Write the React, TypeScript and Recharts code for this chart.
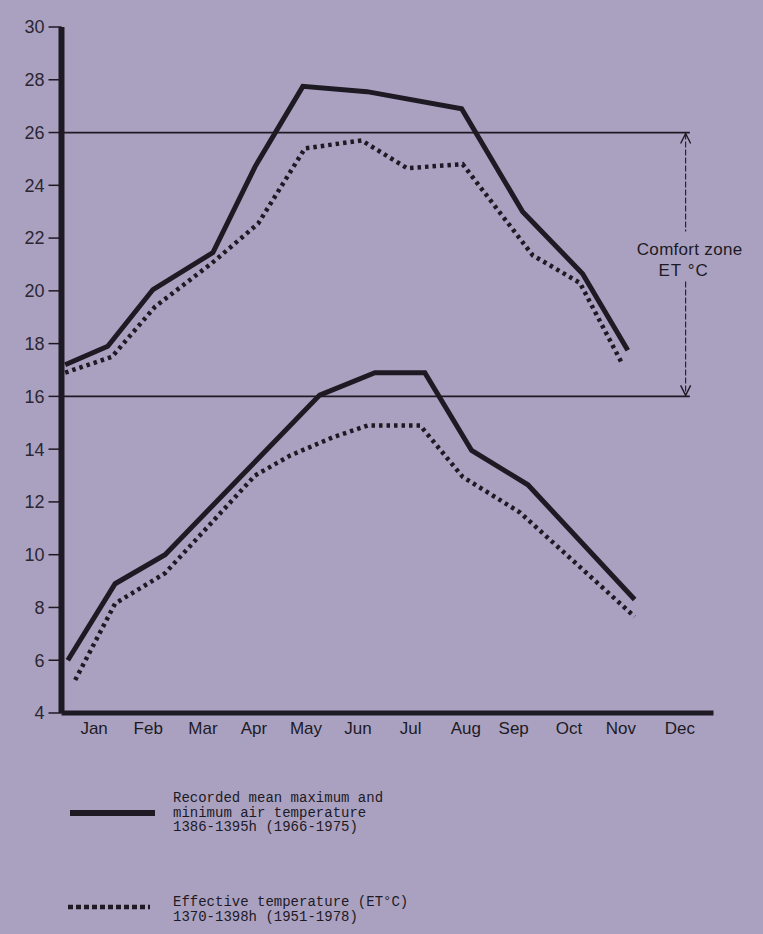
import React from "react";
import {
  LineChart,
  Line,
  XAxis,
  YAxis,
  ReferenceLine,
} from "recharts";

// x is a month position (0 = start of Jan band, 12 = end of Dec band), y is °C
const months = ["Jan", "Feb", "Mar", "Apr", "May", "Jun", "Jul", "Aug", "Sep", "Oct", "Nov", "Dec"];
const monthTicks = [0.42, 1.45, 2.49, 3.46, 4.45, 5.44, 6.44, 7.49, 8.4, 9.45, 10.44, 11.56];
const tempTicks = [4, 6, 8, 10, 12, 14, 16, 18, 20, 22, 24, 26, 28, 30];

const maxRecorded = [
  [-0.13, 17.2], [0.68, 17.9], [1.54, 20.05], [2.68, 21.45], [3.48, 24.7], [4.39, 27.75],
  [5.61, 27.55], [7.41, 26.9], [8.57, 23.0], [9.71, 20.65], [10.57, 17.75],
];
const maxEffective = [
  [-0.13, 16.9], [0.76, 17.5], [1.58, 19.4], [2.66, 21.05], [3.54, 22.55], [4.43, 25.4],
  [5.51, 25.7], [6.37, 24.65], [7.43, 24.8], [8.76, 21.35], [9.66, 20.3], [10.46, 17.25],
];
const minRecorded = [
  [-0.08, 6.0], [0.82, 8.9], [1.77, 10.0], [4.71, 16.05], [5.76, 16.9], [6.71, 16.9],
  [7.6, 13.95], [8.67, 12.65], [10.7, 8.3],
];
const minEffective = [
  [0.06, 5.25], [0.82, 8.15], [1.77, 9.3], [3.48, 13.0], [4.14, 13.75], [4.96, 14.45],
  [5.63, 14.9], [6.62, 14.9], [7.43, 12.95], [8.52, 11.6], [10.7, 7.65],
];

const comfortLow = 16;
const comfortHigh = 26;
const comfortEndX = 11.75;
const comfortArrowX = 11.67;

const legendRecorded = [
  "Recorded mean maximum and",
  "minimum air temperature",
  "1386-1395h (1966-1975)",
];
const legendEffective = ["Effective temperature (ET°C)", "1370-1398h (1951-1978)"];

const INK = "#1d1a24";
const PAPER = "#aaa1c1";
const SANS = "'Liberation Sans', Arial, sans-serif";
const MONO = "'Liberation Mono', 'DejaVu Sans Mono', monospace";

const toRows = (pts: number[][]) => pts.map(([m, t]) => ({ m, t }));

function ComfortArrow(props: any) {
  const { x1, y1, y2 } = props;
  const top = Math.min(y1, y2);
  const bot = Math.max(y1, y2);
  const mid = (top + bot) / 2;
  const x = x1;
  return (
    <g>
      <line x1={x} y1={top + 1} x2={x} y2={mid - 33} stroke={INK} strokeWidth={1.1} strokeDasharray="6 2" />
      <line x1={x} y1={mid + 17} x2={x} y2={bot - 1} stroke={INK} strokeWidth={1.1} strokeDasharray="6 2" />
      <polyline points={`${x - 5},${top + 11} ${x},${top + 1} ${x + 5},${top + 11}`} fill="none" stroke={INK} strokeWidth={1.4} />
      <polyline points={`${x - 5},${bot - 11} ${x},${bot - 1} ${x + 5},${bot - 11}`} fill="none" stroke={INK} strokeWidth={1.4} />
      <text x={x + 4} y={mid - 9} textAnchor="middle" fontFamily={SANS} fontSize={17} fill={INK} letterSpacing={0.3}>
        Comfort zone
      </text>
      <text x={x - 2} y={mid + 12} textAnchor="middle" fontFamily={SANS} fontSize={17} fill={INK} letterSpacing={1}>
        ET °C
      </text>
    </g>
  );
}

function LegendBlock() {
  return (
    <>
      <svg style={{ position: "absolute", left: 0, top: 0 }} width={763} height={934} pointerEvents="none">
        <line x1={70} y1={813} x2={155} y2={813} stroke={INK} strokeWidth={6} />
        <line x1={68} y1={907} x2={150} y2={907} stroke={INK} strokeWidth={4.5} strokeDasharray="5 3" />
      </svg>
      <div style={{ position: "absolute", left: 173, top: 791, fontFamily: MONO, fontSize: 14, lineHeight: "14.5px", color: INK }}>
        {legendRecorded.map((l) => (
          <div key={l}>{l}</div>
        ))}
      </div>
      <div style={{ position: "absolute", left: 173, top: 895, fontFamily: MONO, fontSize: 14, lineHeight: "14.5px", color: INK }}>
        {legendEffective.map((l) => (
          <div key={l}>{l}</div>
        ))}
      </div>
    </>
  );
}

export default function App() {
  const solid = { stroke: INK, strokeWidth: 5 };
  const dotted = { stroke: INK, strokeWidth: 4.5, strokeDasharray: "3.5 4" };

  return (
    <div style={{ position: "relative", width: 763, height: 934, background: PAPER, overflow: "hidden" }}>
      <style>{"body{margin:0}"}</style>
      <LineChart
        width={763}
        height={934}
        margin={{ top: 27, right: 49.5, left: 0, bottom: 191 }}
      >
        <XAxis
          dataKey="m"
          type="number"
          domain={[-0.2, 12.2]}
          ticks={monthTicks}
          interval={0}
          tickFormatter={(_v: number, i: number) => months[i]}
          tickLine={false}
          tickSize={6}
          tickMargin={3}
          height={30}
          axisLine={{ stroke: INK, strokeWidth: 5 }}
          tick={{ fontSize: 17, fill: INK, fontFamily: SANS }}
        />
        <YAxis
          type="number"
          domain={[4, 30]}
          ticks={tempTicks}
          interval={0}
          width={61.5}
          tickSize={13}
          tickMargin={4}
          axisLine={{ stroke: INK, strokeWidth: 6 }}
          tickLine={{ stroke: INK, strokeWidth: 1.5 }}
          tick={{ fontSize: 18, fill: "#2a2632", fontFamily: SANS }}
        />
        <ReferenceLine
          segment={[{ x: -0.2, y: comfortHigh }, { x: comfortEndX, y: comfortHigh }]}
          stroke={INK}
          strokeWidth={1.8}
        />
        <ReferenceLine
          segment={[{ x: -0.2, y: comfortLow }, { x: comfortEndX, y: comfortLow }]}
          stroke={INK}
          strokeWidth={1.8}
        />
        <ReferenceLine
          segment={[{ x: comfortArrowX, y: comfortLow }, { x: comfortArrowX, y: comfortHigh }]}
          shape={ComfortArrow}
        />
        <Line data={toRows(maxRecorded)} dataKey="t" type="linear" dot={false} {...solid} isAnimationActive={false} />
        <Line data={toRows(maxEffective)} dataKey="t" type="linear" dot={false} {...dotted} isAnimationActive={false} />
        <Line data={toRows(minRecorded)} dataKey="t" type="linear" dot={false} {...solid} isAnimationActive={false} />
        <Line data={toRows(minEffective)} dataKey="t" type="linear" dot={false} {...dotted} isAnimationActive={false} />
      </LineChart>
      <LegendBlock />
    </div>
  );
}
